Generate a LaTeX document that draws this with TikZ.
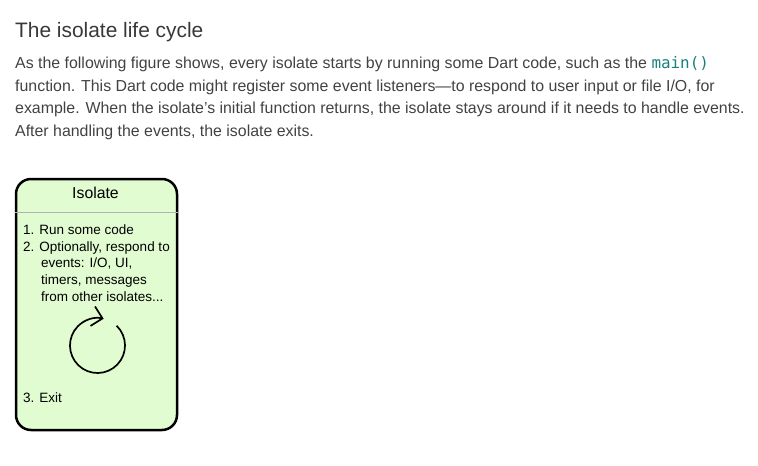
\documentclass[tikz,border=0pt]{standalone}
\usepackage{fontspec}
\setmainfont{Liberation Sans}
\setmonofont{DejaVu Sans Mono}
\usetikzlibrary{arrows.meta}
\definecolor{isofill}{RGB}{226,252,210}
\definecolor{bodytext}{RGB}{66,66,66}
\definecolor{codeteal}{RGB}{24,128,128}
\begin{document}
\begin{tikzpicture}[x=1pt,y=-1pt,
    body/.style={anchor=base west,inner sep=0pt,text=bodytext,font=\fontsize{15.9}{18}\selectfont},
    item/.style={anchor=base west,inner sep=0pt,font=\fontsize{13.5}{15}\selectfont}]
    \useasboundingbox (0,0) rectangle (758,466);

    % 标题
    \node[anchor=base west,inner sep=0pt,text=black!78,font=\fontsize{20.9}{24}\selectfont] (title) at (15,37) {The isolate life cycle};

    % 正文
    \node[body] (line1) at (15,68) {As the following figure shows, every isolate starts by running some Dart code, such as the \textcolor{codeteal}{\texttt{main()}}};
    \node[body] (line2) at (15,91) {function. This Dart code might register some event listeners---to respond to user input or file I/O, for};
    \node[body] (line3) at (15,113.5) {example. When the isolate's initial function returns, the isolate stays around if it needs to handle events.};
    \node[body] (line4) at (15,136) {After handling the events, the isolate exits.};

    % 隔离框
    \node[draw,line width=2.5pt,fill=isofill,rounded corners=15pt,minimum width=161pt,minimum height=251pt] (iso) at (96.5,304.5) {};
    \draw[black!30,line width=1pt] (iso.west |- 0,212) -- (iso.east |- 0,212);

    % 框内文字
    \node[anchor=base,inner sep=0pt,font=\fontsize{15.8}{18}\selectfont] (isoname) at (95.5,198.5) {Isolate};
    \node[item] (step1) at (23,234) {1. Run some code};
    \node[item] (step2) at (23,251) {2. Optionally, respond to};
    \node[item] (step2a) at (41,267.5) {events: I/O, UI,};
    \node[item] (step2b) at (41,284) {timers, messages};
    \node[item] (step2c) at (41,301) {from other isolates...};
    \node[item] (step3) at (23,402) {3. Exit};

    % 循环箭头
    \coordinate (loop) at (97.5,345.5);
    \draw[line width=1.7pt,-{Straight Barb[length=10pt,width=20pt]}] (loop) ++(46:27.5pt) arc[start angle=46,end angle=-283,radius=27.5pt];

\end{tikzpicture}
\end{document}
